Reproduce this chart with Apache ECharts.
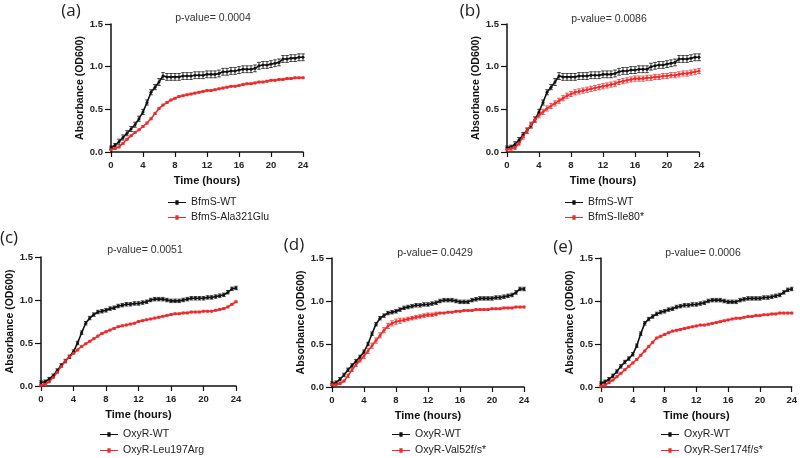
<!DOCTYPE html>
<html>
<head>
<meta charset="utf-8">
<script src="https://cdn.jsdelivr.net/npm/echarts@6/dist/echarts.min.js"></script>
<style>
  html, body { margin: 0; padding: 0; background: #fff; }
  #main { width: 800px; height: 458px; }
</style>
</head>
<body>
<div id="main"></div>
<script>
// time points (hours)
var hours = [0,0.5,1,1.5,2,2.5,3,3.5,4,4.5,5,5.5,6,6.5,7,7.5,8,8.5,9,9.5,10,10.5,11,11.5,12,12.5,13,13.5,14,14.5,15,15.5,16,16.5,17,17.5,18,18.5,19,19.5,20,20.5,21,21.5,22,22.5,23,23.5,24]

// (a) BfmS-WT vs BfmS-Ala321Glu
var wtA = [0.05,0.08,0.12,0.17,0.22,0.27,0.32,0.39,0.47,0.58,0.70,0.76,0.82,0.89,0.88,0.88,0.88,0.88,0.89,0.89,0.89,0.90,0.90,0.90,0.91,0.91,0.91,0.92,0.94,0.94,0.95,0.95,0.96,0.97,0.97,0.97,0.98,1.01,1.02,1.02,1.03,1.04,1.05,1.09,1.09,1.10,1.10,1.11,1.11]
var wtErrA = [0.02,0.02,0.03,0.03,0.03,0.03,0.03,0.03,0.03,0.03,0.03,0.03,0.04,0.04,0.04,0.04,0.04,0.04,0.04,0.04,0.04,0.04,0.04,0.04,0.04,0.04,0.04,0.04,0.04,0.04,0.04,0.04,0.04,0.04,0.04,0.04,0.04,0.04,0.04,0.04,0.04,0.04,0.04,0.04,0.04,0.04,0.04,0.04,0.04]
var mutA = [0.03,0.04,0.06,0.10,0.15,0.19,0.23,0.26,0.30,0.34,0.39,0.45,0.51,0.55,0.58,0.61,0.63,0.65,0.66,0.67,0.68,0.69,0.70,0.71,0.72,0.72,0.73,0.74,0.75,0.76,0.77,0.77,0.78,0.79,0.80,0.80,0.81,0.82,0.82,0.83,0.84,0.84,0.85,0.85,0.86,0.86,0.87,0.87,0.87]
var mutErrA = [0.01,0.01,0.01,0.01,0.01,0.01,0.01,0.01,0.01,0.01,0.01,0.01,0.01,0.01,0.01,0.01,0.01,0.01,0.01,0.01,0.01,0.01,0.01,0.01,0.01,0.01,0.01,0.01,0.01,0.01,0.01,0.01,0.01,0.01,0.01,0.01,0.01,0.01,0.01,0.01,0.01,0.01,0.01,0.01,0.01,0.01,0.01,0.01,0.01]

// (b) BfmS-WT vs BfmS-Ile80*
var wtB = [0.05,0.06,0.09,0.14,0.20,0.25,0.31,0.38,0.47,0.58,0.70,0.76,0.82,0.89,0.88,0.88,0.88,0.88,0.89,0.89,0.89,0.90,0.90,0.90,0.91,0.91,0.91,0.92,0.94,0.95,0.95,0.96,0.96,0.97,0.97,0.97,1.00,1.01,1.02,1.02,1.03,1.04,1.05,1.09,1.09,1.09,1.10,1.11,1.11]
var wtErrB = [0.02,0.02,0.03,0.03,0.03,0.03,0.03,0.03,0.03,0.03,0.03,0.03,0.04,0.04,0.04,0.04,0.04,0.04,0.04,0.04,0.04,0.04,0.04,0.04,0.04,0.04,0.04,0.04,0.04,0.04,0.04,0.04,0.04,0.04,0.04,0.04,0.04,0.04,0.04,0.04,0.04,0.04,0.04,0.04,0.04,0.04,0.04,0.04,0.04]
var mutB = [0.03,0.04,0.05,0.10,0.18,0.25,0.32,0.38,0.43,0.47,0.51,0.54,0.57,0.60,0.63,0.66,0.68,0.70,0.71,0.72,0.73,0.74,0.75,0.76,0.77,0.78,0.79,0.80,0.82,0.83,0.84,0.85,0.86,0.86,0.86,0.87,0.87,0.88,0.88,0.89,0.89,0.90,0.90,0.91,0.92,0.92,0.93,0.94,0.95]
var mutErrB = [0.02,0.02,0.02,0.02,0.03,0.03,0.03,0.03,0.03,0.03,0.03,0.03,0.03,0.03,0.03,0.03,0.03,0.03,0.03,0.03,0.03,0.03,0.03,0.03,0.03,0.03,0.03,0.03,0.03,0.03,0.03,0.03,0.03,0.03,0.03,0.03,0.03,0.03,0.03,0.03,0.03,0.03,0.03,0.03,0.03,0.03,0.03,0.03,0.03]

// (c) OxyR-WT vs OxyR-Leu197Arg
var wtC = [0.04,0.05,0.08,0.12,0.18,0.24,0.29,0.34,0.40,0.50,0.62,0.73,0.79,0.83,0.86,0.87,0.88,0.90,0.91,0.93,0.94,0.95,0.95,0.96,0.96,0.97,0.98,1.00,1.01,1.01,1.01,1.00,0.99,0.99,0.99,1.00,1.01,1.02,1.02,1.02,1.02,1.03,1.03,1.04,1.05,1.06,1.09,1.13,1.14]
var wtErrC = [0.02,0.02,0.02,0.02,0.02,0.02,0.02,0.02,0.02,0.02,0.02,0.02,0.02,0.02,0.02,0.02,0.02,0.02,0.02,0.02,0.02,0.02,0.02,0.02,0.02,0.02,0.02,0.02,0.02,0.02,0.02,0.02,0.02,0.02,0.02,0.02,0.02,0.02,0.02,0.02,0.02,0.02,0.02,0.02,0.02,0.02,0.02,0.02,0.02]
var mutC = [0.01,0.02,0.05,0.10,0.16,0.23,0.29,0.34,0.38,0.42,0.46,0.49,0.52,0.55,0.58,0.61,0.63,0.65,0.67,0.69,0.70,0.71,0.72,0.73,0.75,0.76,0.77,0.78,0.79,0.80,0.81,0.82,0.83,0.84,0.84,0.85,0.85,0.86,0.86,0.86,0.87,0.87,0.87,0.88,0.89,0.90,0.92,0.95,0.98]
var mutErrC = [0.01,0.01,0.01,0.01,0.01,0.01,0.01,0.01,0.01,0.01,0.01,0.01,0.01,0.01,0.01,0.01,0.01,0.01,0.01,0.01,0.01,0.01,0.01,0.01,0.01,0.01,0.01,0.01,0.01,0.01,0.01,0.01,0.01,0.01,0.01,0.01,0.01,0.01,0.01,0.01,0.01,0.01,0.01,0.01,0.01,0.01,0.01,0.01,0.01]

// (d) OxyR-WT vs OxyR-Val52f/s*
var wtD = [0.04,0.05,0.09,0.14,0.20,0.25,0.30,0.35,0.41,0.50,0.62,0.73,0.80,0.83,0.86,0.87,0.88,0.90,0.92,0.93,0.94,0.95,0.95,0.96,0.96,0.97,0.98,1.00,1.01,1.01,1.01,1.00,0.99,0.99,0.99,1.01,1.02,1.03,1.03,1.03,1.03,1.04,1.04,1.05,1.06,1.07,1.10,1.14,1.14]
var wtErrD = [0.02,0.02,0.02,0.02,0.02,0.02,0.02,0.02,0.02,0.02,0.02,0.02,0.02,0.02,0.02,0.02,0.02,0.02,0.02,0.02,0.02,0.02,0.02,0.02,0.02,0.02,0.02,0.02,0.02,0.02,0.02,0.02,0.02,0.02,0.02,0.02,0.02,0.02,0.02,0.02,0.02,0.02,0.02,0.02,0.02,0.02,0.02,0.02,0.02]
var mutD = [0.03,0.03,0.04,0.07,0.13,0.20,0.26,0.31,0.36,0.42,0.48,0.54,0.60,0.66,0.71,0.74,0.76,0.77,0.78,0.79,0.80,0.81,0.82,0.83,0.84,0.84,0.85,0.86,0.86,0.87,0.87,0.88,0.88,0.89,0.89,0.89,0.90,0.90,0.90,0.90,0.91,0.91,0.91,0.92,0.92,0.92,0.93,0.93,0.93]
var mutErrD = [0.01,0.01,0.01,0.01,0.02,0.02,0.02,0.02,0.03,0.03,0.03,0.03,0.03,0.03,0.03,0.03,0.03,0.03,0.02,0.02,0.02,0.02,0.02,0.02,0.02,0.02,0.02,0.01,0.01,0.01,0.01,0.01,0.01,0.01,0.01,0.01,0.01,0.01,0.01,0.01,0.01,0.01,0.01,0.01,0.01,0.01,0.01,0.01,0.01]

// (e) OxyR-WT vs OxyR-Ser174f/s*
var wtE = [0.04,0.06,0.09,0.13,0.18,0.24,0.29,0.33,0.38,0.48,0.62,0.74,0.79,0.82,0.85,0.87,0.88,0.90,0.91,0.93,0.94,0.95,0.95,0.96,0.96,0.97,0.98,1.00,1.01,1.01,1.01,1.00,0.99,0.99,0.99,1.01,1.02,1.03,1.03,1.03,1.03,1.04,1.04,1.05,1.06,1.07,1.10,1.13,1.14]
var wtErrE = [0.02,0.02,0.02,0.02,0.02,0.02,0.02,0.02,0.02,0.02,0.02,0.02,0.02,0.02,0.02,0.02,0.02,0.02,0.02,0.02,0.02,0.02,0.02,0.02,0.02,0.02,0.02,0.02,0.02,0.02,0.02,0.02,0.02,0.02,0.02,0.02,0.02,0.02,0.02,0.02,0.02,0.02,0.02,0.02,0.02,0.02,0.02,0.02,0.02]
var mutE = [0.01,0.02,0.05,0.08,0.12,0.16,0.20,0.24,0.28,0.32,0.37,0.42,0.47,0.52,0.57,0.59,0.61,0.63,0.65,0.66,0.67,0.68,0.69,0.70,0.71,0.72,0.72,0.73,0.74,0.75,0.76,0.77,0.78,0.79,0.80,0.80,0.81,0.82,0.82,0.83,0.83,0.84,0.84,0.85,0.85,0.86,0.86,0.86,0.86]
var mutErrE = [0.01,0.01,0.01,0.01,0.01,0.01,0.01,0.01,0.01,0.01,0.01,0.01,0.01,0.01,0.01,0.01,0.01,0.01,0.01,0.01,0.01,0.01,0.01,0.01,0.01,0.01,0.01,0.01,0.01,0.01,0.01,0.01,0.01,0.01,0.01,0.01,0.01,0.01,0.01,0.01,0.01,0.01,0.01,0.01,0.01,0.01,0.01,0.01,0.01]

var xTicks = [0, 24, 4]      // min, max, interval
var yTicks = [0, 1.5, 0.5]

var BLACK = '#111'
var RED = '#ee2a2a'
var LEGEND_ICON = 'path://M0,3.4H20V4.6H0Z M8.2,1.5H11.8V6.5H8.2Z'

var panels = [
  { tag: '(a)', pval: 'p-value= 0.0004', names: ['BfmS-WT', 'BfmS-Ala321Glu'],
    wt: wtA, wtErr: wtErrA, mut: mutA, mutErr: mutErrA,
    grid: { left: 111, top: 24, width: 192, height: 128 },
    tagPos: [71, 11], pPos: [213, 18], legPos: [168, 197], legGap: 4 },
  { tag: '(b)', pval: 'p-value= 0.0086', names: ['BfmS-WT', 'BfmS-Ile80*'],
    wt: wtB, wtErr: wtErrB, mut: mutB, mutErr: mutErrB,
    grid: { left: 507, top: 24, width: 192, height: 128 },
    tagPos: [470, 11], pPos: [609, 19], legPos: [565, 197], legGap: 4 },
  { tag: '(c)', pval: 'p-value= 0.0051', names: ['OxyR-WT', 'OxyR-Leu197Arg'],
    wt: wtC, wtErr: wtErrC, mut: mutC, mutErr: mutErrC,
    grid: { left: 41, top: 257, width: 195, height: 129 },
    tagPos: [9, 238], pPos: [145, 250], legPos: [100, 429], legGap: 5 },
  { tag: '(d)', pval: 'p-value= 0.0429', names: ['OxyR-WT', 'OxyR-Val52f/s*'],
    wt: wtD, wtErr: wtErrD, mut: mutD, mutErr: mutErrD,
    grid: { left: 332, top: 258, width: 192, height: 129 },
    tagPos: [294, 245], pPos: [435, 253], legPos: [392, 429], legGap: 5 },
  { tag: '(e)', pval: 'p-value= 0.0006', names: ['OxyR-WT', 'OxyR-Ser174f/s*'],
    wt: wtE, wtErr: wtErrE, mut: mutE, mutErr: mutErrE,
    grid: { left: 601, top: 258, width: 192, height: 129 },
    tagPos: [563, 247], pPos: [703, 253], legPos: [661, 429], legGap: 5 }
]

function pairs(vals) {
  return hours.map(function (h, i) { return [h, vals[i]] })
}
function triples(vals, errs) {
  return hours.map(function (h, i) { return [h, vals[i], errs[i]] })
}

// error bar with caps
function errBar(params, api) {
  var x = api.value(0), y = api.value(1), e = api.value(2)
  var hi = api.coord([x, y + e])
  var lo = api.coord([x, y - e])
  var w = 1.8
  var st = { stroke: api.visual('color'), lineWidth: 0.8 }
  return {
    type: 'group',
    children: [
      { type: 'line', shape: { x1: hi[0], y1: hi[1], x2: lo[0], y2: lo[1] }, style: st },
      { type: 'line', shape: { x1: hi[0] - w, y1: hi[1], x2: hi[0] + w, y2: hi[1] }, style: st },
      { type: 'line', shape: { x1: lo[0] - w, y1: lo[1], x2: lo[0] + w, y2: lo[1] }, style: st }
    ]
  }
}

var axisLabelStyle = { color: '#222', fontSize: 9.5, fontWeight: 'bold', fontFamily: 'Liberation Sans, Arial' }
var axisLineStyle = { lineStyle: { color: '#111', width: 1.5 } }

var grids = [], xAxes = [], yAxes = [], series = [], legends = [], graphics = []

panels.forEach(function (p, k) {
  grids.push(p.grid)
  xAxes.push({
    type: 'value', gridIndex: k, min: xTicks[0], max: xTicks[1], interval: xTicks[2],
    name: 'Time (hours)', nameLocation: 'middle', nameGap: 23,
    nameTextStyle: { color: '#111', fontSize: 11, fontWeight: 'bold', fontFamily: 'Liberation Sans, Arial' },
    axisLine: axisLineStyle, axisTick: { length: 5, lineStyle: { color: '#111', width: 1.2 } },
    axisLabel: Object.assign({ margin: 8 }, axisLabelStyle),
    splitLine: { show: false }
  })
  yAxes.push({
    type: 'value', gridIndex: k, min: yTicks[0], max: yTicks[1], interval: yTicks[2],
    name: 'Absorbance (OD600)', nameLocation: 'middle', nameGap: 24, nameRotate: 90,
    nameTextStyle: { color: '#111', fontSize: 10.5, fontWeight: 'bold', fontFamily: 'Liberation Sans, Arial' },
    axisLine: axisLineStyle, axisTick: { length: 6, lineStyle: { color: '#111', width: 1.2 } },
    axisLabel: Object.assign({ margin: 8, formatter: function (v) { return v.toFixed(1) } }, axisLabelStyle),
    splitLine: { show: false }
  })

  var lines = [
    { name: p.names[0], vals: p.wt, errs: p.wtErr, color: BLACK },
    { name: p.names[1], vals: p.mut, errs: p.mutErr, color: RED }
  ]
  lines.forEach(function (s) {
    series.push({
      type: 'custom', name: s.name + ' sd', xAxisIndex: k, yAxisIndex: k,
      data: triples(s.vals, s.errs), renderItem: errBar,
      encode: { x: 0, y: 1 }, itemStyle: { color: s.color }, silent: true, z: 3
    })
    series.push({
      type: 'line', name: s.name, xAxisIndex: k, yAxisIndex: k,
      data: pairs(s.vals), symbol: 'circle', symbolSize: 3, showSymbol: true,
      lineStyle: { color: s.color, width: 1.6 }, itemStyle: { color: s.color },
      animation: false, z: 4
    })
  })

  legends.push({
    data: p.names, orient: 'vertical', left: p.legPos[0], top: p.legPos[1],
    width: 150, height: 60,
    padding: 0, icon: LEGEND_ICON,
    itemWidth: 18, itemHeight: 8, itemGap: p.legGap,
    textStyle: { color: '#222', fontSize: 10.5, fontFamily: 'Liberation Sans, Arial' }
  })

  graphics.push({
    type: 'text', x: p.tagPos[0], y: p.tagPos[1],
    style: { text: p.tag, fill: '#222', font: '17px "Open Sans"', textAlign: 'center', textVerticalAlign: 'middle' }
  })
  graphics.push({
    type: 'text', x: p.pPos[0], y: p.pPos[1],
    style: { text: p.pval, fill: '#333', font: '10.5px "Liberation Sans"', textAlign: 'center', textVerticalAlign: 'middle' }
  })
})

var chart = echarts.init(document.getElementById('main'))
chart.setOption({
  backgroundColor: '#fff',
  animation: false,
  grid: grids,
  xAxis: xAxes,
  yAxis: yAxes,
  legend: legends,
  series: series,
  graphic: graphics
})
window.addEventListener('resize', function () { chart.resize() })
</script>
</body>
</html>
